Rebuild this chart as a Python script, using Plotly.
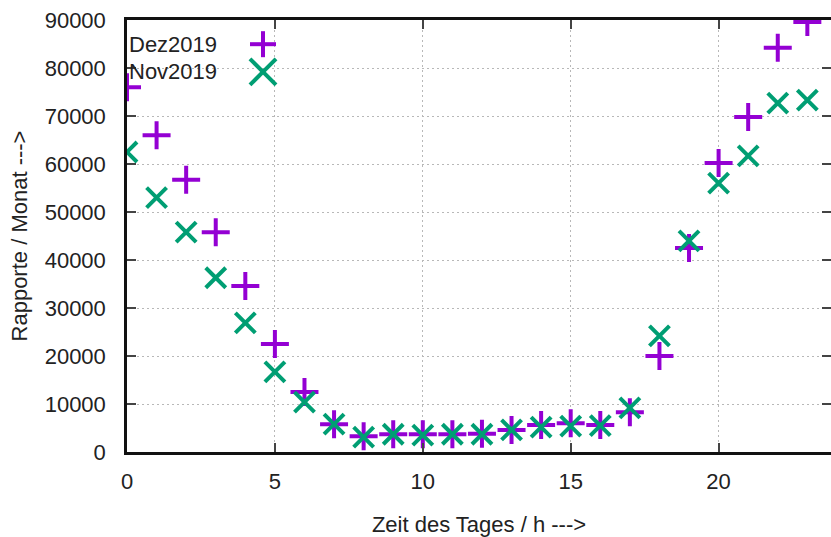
import plotly.graph_objects as go

hours = list(range(24))
dez2019 = [76000, 66000, 56700, 45800, 34600, 22500, 12500, 5800, 3300, 3700,
           3700, 3700, 3800, 4600, 5600, 6000, 5600, 8300, 20000, 42500,
           60200, 69800, 84200, 89600]
nov2019 = [62500, 53000, 45800, 36300, 26900, 16700, 10400, 5800, 3100, 3700,
           3500, 3700, 3700, 4600, 5200, 5400, 5500, 9200, 24200, 44000,
           56000, 61700, 72700, 73300]
x_ticks = [0, 5, 10, 15, 20]
y_ticks = [0, 10000, 20000, 30000, 40000, 50000, 60000, 70000, 80000, 90000]
series_names = ["Dez2019", "Nov2019"]
PURPLE = "#9400d3"
GREEN = "#009e73"

fig = go.Figure()
fig.add_trace(go.Scatter(x=hours, y=dez2019, mode="markers", name=series_names[0],
                         marker=dict(symbol="cross-thin", size=20, color=PURPLE,
                                     line=dict(width=4, color=PURPLE))))
fig.add_trace(go.Scatter(x=hours, y=nov2019, mode="markers", name=series_names[1],
                         yaxis="y2",
                         marker=dict(symbol="x-thin", size=20, color=GREEN,
                                     line=dict(width=4, color=GREEN))))

font = dict(family="Liberation Sans, Arial, sans-serif", size=22, color="#222222")
y_range = [0, 90000]

fig.update_layout(
    width=831, height=537,
    margin=dict(l=127, r=0, t=20, b=85),
    paper_bgcolor="white", plot_bgcolor="white",
    showlegend=False,
    font=font,
    xaxis=dict(range=[0, 23.8], tickvals=x_ticks, ticks="inside", ticklen=9, tickwidth=2,
               tickcolor="#444", showline=True, linewidth=2.5, linecolor="#111", mirror="ticks",
               showgrid=True, gridcolor="#b8b8b8", griddash="2px,3px", gridwidth=1.2,
               zeroline=False, ticklabelstandoff=8, automargin=False,
               title=dict(text="Zeit des Tages / h --->", standoff=24, font=font)),
    # labelled y axis: invisible outside ticks push labels away from the frame
    yaxis=dict(range=y_range, tickvals=y_ticks, ticks="outside", ticklen=14, tickwidth=1,
               tickcolor="rgba(0,0,0,0)", showline=True, linewidth=2.5, linecolor="#111",
               showgrid=True, gridcolor="#b8b8b8", griddash="2px,3px", gridwidth=1.2,
               zeroline=False, tickformat="d", automargin=False,
               title=dict(text="Rapporte / Monat --->", standoff=11, font=font)),
    # overlay y axis: draws the inward ticks (left and mirrored right) and the frame
    yaxis2=dict(range=y_range, tickvals=y_ticks, overlaying="y", side="left", anchor="x",
                ticks="inside", ticklen=9, tickwidth=2, tickcolor="#444",
                showline=True, linewidth=2.5, linecolor="#111", mirror="ticks",
                showgrid=False, zeroline=False, showticklabels=False, automargin=False),
)

# gnuplot-style key: text right-aligned, sample symbol to the right
W, H = 704.0, 432.0
key_rows = [(0.944, PURPLE, "plus"), (0.880, GREEN, "x")]
sx = (263 - 127) / W
hx, hy = 13 / W, 13 / H
for name, (ky, col, kind) in zip(series_names, key_rows):
    fig.add_annotation(x=(219 - 127) / W, y=ky, xref="paper", yref="paper",
                       text=name, showarrow=False, xanchor="right", yanchor="middle",
                       font=font)
    if kind == "plus":
        fig.add_shape(type="line", xref="paper", yref="paper", x0=sx - hx, x1=sx + hx,
                      y0=ky, y1=ky, line=dict(color=col, width=4))
        fig.add_shape(type="line", xref="paper", yref="paper", x0=sx, x1=sx,
                      y0=ky - hy, y1=ky + hy, line=dict(color=col, width=4))
    else:
        fig.add_shape(type="line", xref="paper", yref="paper", x0=sx - hx, x1=sx + hx,
                      y0=ky - hy, y1=ky + hy, line=dict(color=col, width=4))
        fig.add_shape(type="line", xref="paper", yref="paper", x0=sx - hx, x1=sx + hx,
                      y0=ky + hy, y1=ky - hy, line=dict(color=col, width=4))

fig.write_html("out.html", config={"displayModeBar": False},
               post_script="document.body.style.margin='0';document.body.style.overflow='hidden';")
